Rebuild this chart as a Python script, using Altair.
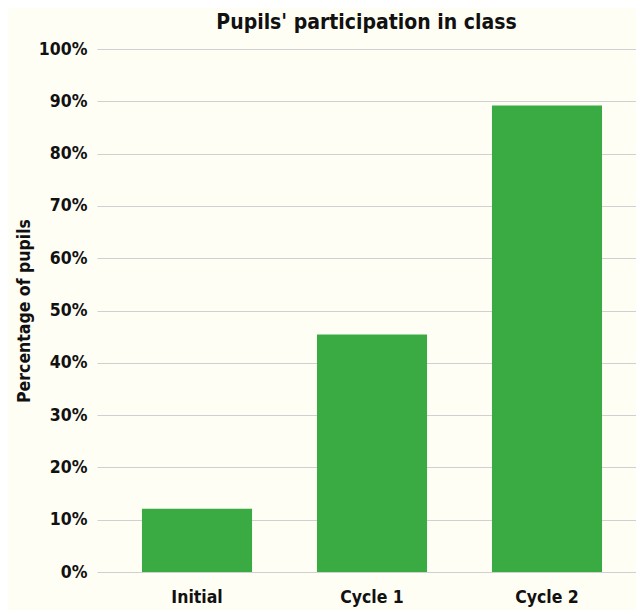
import altair as alt
import pandas as pd

categories = ["Initial", "Cycle 1", "Cycle 2"]
values = [0.121, 0.454, 0.892]

df = pd.DataFrame({"stage": categories, "pct": values})

FONT = "DejaVu Sans Condensed"

chart = alt.Chart(df).mark_bar(color="#3AAA42").encode(
    x=alt.X("stage:N", sort=categories, title=None,
            scale=alt.Scale(paddingInner=0.371, paddingOuter=0.257, range=[0, 550]),
            axis=alt.Axis(labelAngle=0, labelFont=FONT, labelFontSize=17.5,
                          labelFontWeight="bold", labelColor="#111111",
                          ticks=False, domain=False, labelPadding=16)),
    y=alt.Y("pct:Q", title="Percentage of pupils",
            scale=alt.Scale(domain=[0, 1]),
            axis=alt.Axis(format=".0%", values=[i / 10 for i in range(11)],
                          labelFont=FONT, labelFontSize=17.5, labelFontWeight="bold",
                          labelColor="#111111", ticks=False, domain=False,
                          labelPadding=10, gridColor="#D0D0D0",
                          titleFont=FONT, titleFontSize=17.5, titleFontWeight="bold",
                          titleColor="#111111", titlePadding=5)),
).properties(
    width=539,
    height=523,
    title=alt.TitleParams("Pupils' participation in class", font=FONT,
                          fontSize=21, fontWeight="bold", color="#111111",
                          anchor="middle", offset=7),
    autosize=alt.AutoSizeParams(type="none"),
    padding={"left": 89, "top": 41, "right": 0, "bottom": 40},
    background="#FFFEF5",
).configure_view(stroke=None)

chart.save("out.html", embed_options={"renderer": "svg", "actions": False})
